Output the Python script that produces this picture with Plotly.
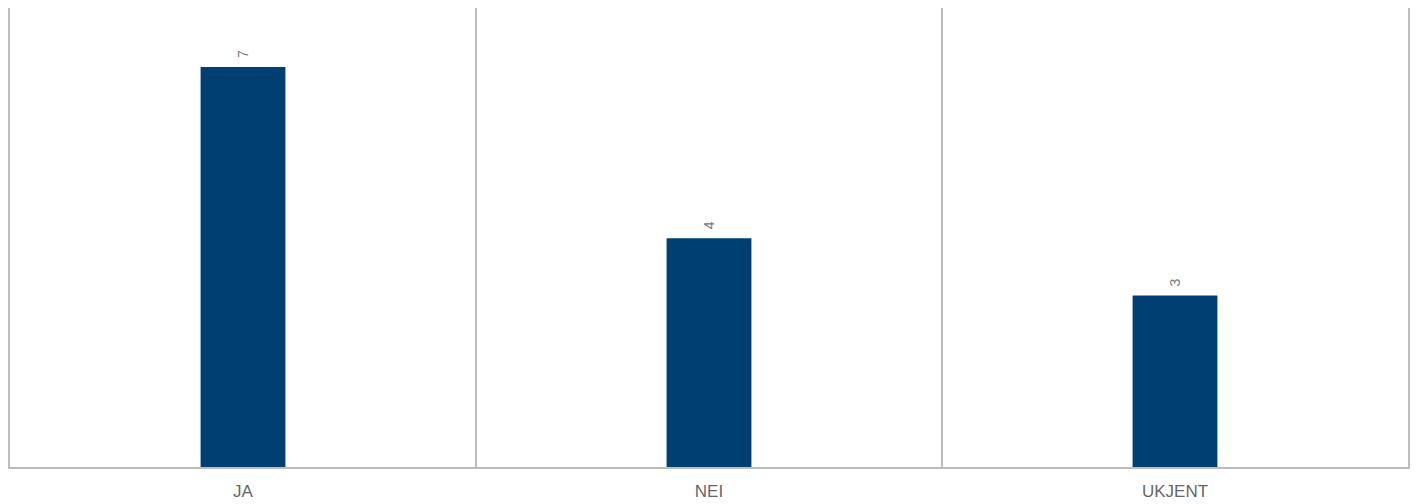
import plotly.graph_objects as go

categories = ["JA", "NEI", "UKJENT"]
values = [7, 4, 3]

fig = go.Figure()
fig.add_trace(go.Bar(
    x=categories,
    y=values,
    width=0.182,
    marker=dict(color="#003F72", line=dict(width=0)),
    hoverinfo="skip",
))

for c, v in zip(categories, values):
    fig.add_annotation(
        x=c, y=v, text=str(v), showarrow=False,
        textangle=-90, yanchor="bottom", yshift=7,
        font=dict(family="Arial, Liberation Sans, sans-serif", size=14, color="#777777"),
    )

fig.update_layout(
    width=1418,
    height=504,
    margin=dict(l=10, r=10, t=8, b=37),
    paper_bgcolor="white",
    plot_bgcolor="white",
    showlegend=False,
    font=dict(family="Arial, Liberation Sans, sans-serif"),
)
fig.update_xaxes(
    type="category",
    automargin=False,
    tickson="boundaries",
    showgrid=True,
    gridcolor="#BDBDBD",
    gridwidth=2,
    showline=True,
    linecolor="#BDBDBD",
    linewidth=2,
    ticks="",
    tickfont=dict(family="Arial, Liberation Sans, sans-serif", size=17, color="#666666"),
    ticklabelstandoff=8,
)
fig.update_yaxes(
    range=[0, 8.03],
    automargin=False,
    showgrid=False,
    zeroline=False,
    showticklabels=False,
    showline=True,
    mirror=True,
    linecolor="#BDBDBD",
    linewidth=2,
    ticks="",
)

fig.write_html(
    "out.html",
    config={"displayModeBar": False},
    post_script="document.body.style.margin='0';document.body.style.overflow='hidden';",
)
